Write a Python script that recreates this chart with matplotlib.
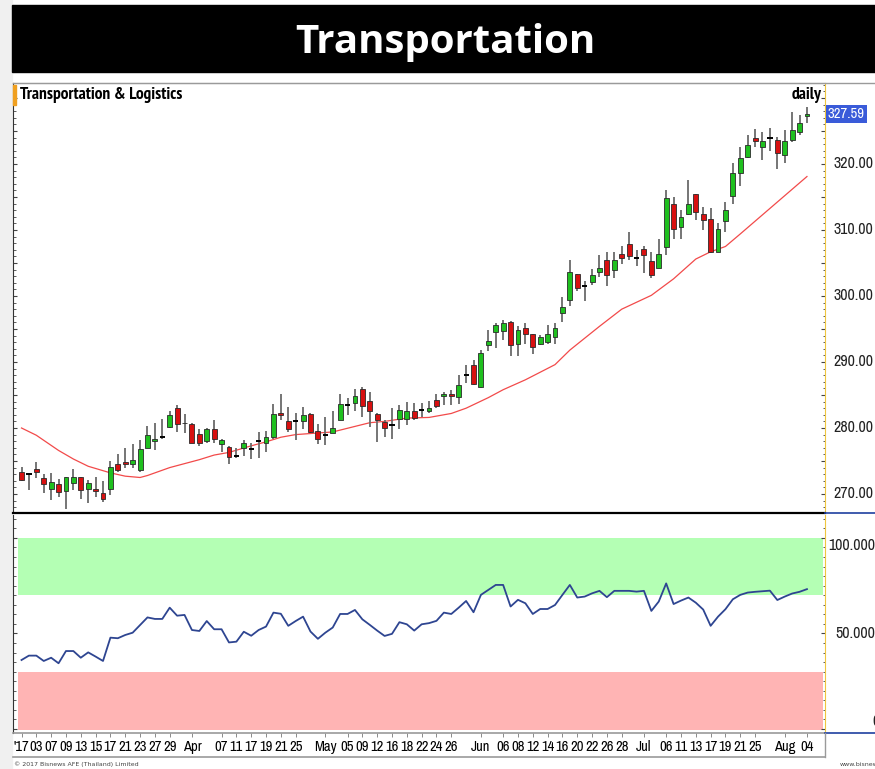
import matplotlib
matplotlib.use('Agg')
import matplotlib.pyplot as plt
from matplotlib.patches import Rectangle
from matplotlib.lines import Line2D
from matplotlib.ticker import MultipleLocator
from matplotlib.transforms import blended_transform_factory
import numpy as np

# ---- data (daily candles, Mar 1 -> Aug 4 2017) ----
OPEN = [273.4, 273.0, 273.8, 272.4, 270.7, 271.5, 270.4, 271.6, 272.5, 270.7,
        270.7, 270.2, 270.8, 274.6, 274.9, 274.6, 273.6, 277.0, 278.1, 278.6,
        280.1, 283.0, 280.8, 280.6, 279.1, 278.0, 279.8, 277.5, 277.1, 275.7,
        276.9, 276.8, 278.1, 277.8, 278.6, 282.3, 281.0, 281.1, 281.0, 282.1,
        279.6, 279.0, 279.3, 281.2, 283.5, 283.8, 285.9, 284.1, 282.1, 280.9,
        280.4, 281.3, 281.3, 282.5, 282.7, 282.5, 284.3, 284.9, 285.1, 284.7,
        288.0, 289.6, 286.2, 292.5, 294.6, 294.7, 296.0, 292.7, 295.2, 294.2,
        292.8, 293.1, 293.8, 297.4, 299.4, 303.4, 301.5, 302.1, 303.7, 305.4,
        304.0, 306.4, 307.9, 305.7, 307.1, 305.3, 304.3, 307.4, 314.0, 310.4,
        312.4, 315.4, 312.4, 311.6, 306.7, 311.3, 315.2, 318.7, 321.1, 324.0,
        322.5, 323.9, 323.7, 321.4, 323.7, 324.8, 327.2]
HIGH = [274.1, 273.1, 274.9, 273.1, 273.2, 272.3, 272.6, 273.8, 272.6, 272.1,
        272.5, 271.9, 275.0, 276.1, 276.9, 277.5, 278.2, 280.3, 280.7, 281.3,
        282.5, 283.5, 282.1, 280.8, 279.9, 280.0, 281.2, 278.4, 277.2, 276.9,
        278.2, 277.7, 279.4, 279.6, 283.6, 285.2, 283.2, 282.2, 283.2, 282.3,
        280.6, 281.7, 282.6, 285.1, 284.5, 285.9, 286.2, 285.5, 282.3, 281.2,
        283.1, 283.5, 284.0, 283.8, 283.8, 284.1, 285.1, 285.5, 285.8, 288.1,
        289.5, 290.3, 291.8, 294.8, 295.9, 296.4, 296.2, 295.4, 295.9, 294.3,
        294.1, 295.6, 295.9, 299.9, 305.4, 303.4, 302.2, 304.1, 306.2, 306.7,
        306.7, 307.6, 309.7, 307.0, 307.5, 306.6, 308.6, 316.1, 315.0, 313.1,
        317.6, 315.5, 313.5, 313.3, 311.1, 314.3, 320.1, 322.6, 324.4, 325.3,
        324.8, 325.4, 324.1, 325.2, 327.9, 327.4, 328.6]
LOW = [271.9, 270.6, 272.4, 270.1, 269.1, 269.6, 267.7, 270.6, 269.3, 268.7,
       269.6, 268.8, 269.8, 273.4, 273.9, 274.0, 273.4, 276.9, 276.7, 278.4,
       280.0, 279.4, 279.3, 277.7, 277.3, 277.7, 277.7, 276.4, 274.5, 275.4,
       275.8, 275.3, 275.4, 276.3, 278.4, 281.2, 279.4, 278.2, 279.9, 279.2,
       277.6, 277.4, 279.2, 281.2, 282.0, 282.6, 281.7, 280.2, 277.9, 278.7,
       278.3, 279.8, 280.4, 281.2, 281.6, 282.3, 283.0, 283.5, 283.5, 283.6,
       286.8, 286.5, 286.0, 291.6, 292.1, 293.3, 290.9, 290.9, 292.8, 291.2,
       292.6, 292.8, 292.8, 296.0, 298.5, 300.7, 299.2, 301.7, 302.9, 301.5,
       302.7, 304.8, 305.5, 304.6, 303.5, 302.7, 304.3, 306.2, 308.7, 308.7,
       312.3, 311.5, 310.0, 306.5, 306.7, 309.7, 314.0, 316.6, 320.9, 322.6,
       320.6, 321.9, 319.2, 320.1, 323.4, 324.4, 326.2]
CLOSE = [272.1, 273.0, 273.4, 271.5, 271.8, 270.3, 272.5, 272.5, 270.6, 271.7,
         270.4, 269.2, 274.1, 273.7, 274.6, 275.1, 276.8, 279.0, 278.4, 278.6,
         282.0, 280.6, 280.7, 277.8, 277.7, 279.8, 278.3, 278.2, 275.6, 275.7,
         277.8, 276.8, 278.1, 278.6, 282.1, 281.9, 279.8, 281.1, 282.0, 279.4,
         278.3, 279.0, 280.0, 283.7, 283.5, 284.9, 283.4, 282.5, 281.2, 280.0,
         280.4, 282.8, 282.6, 281.5, 282.7, 283.0, 283.3, 285.2, 284.9, 286.5,
         288.0, 286.6, 291.4, 293.2, 295.6, 295.9, 292.5, 294.8, 294.3, 292.3,
         293.8, 294.2, 295.1, 298.3, 303.7, 301.2, 301.5, 303.2, 304.2, 303.2,
         305.5, 305.7, 306.1, 305.7, 306.2, 303.2, 306.3, 314.8, 310.1, 311.9,
         313.9, 312.8, 311.5, 306.7, 310.1, 313.0, 318.6, 320.9, 322.9, 323.5,
         323.5, 323.9, 321.7, 323.5, 325.1, 326.2, 327.59]

# moving average (red line), sampled along the curve
MA_IDX = [0, 2, 5, 7, 9, 12, 14, 16, 17, 20, 22, 24, 26, 28, 31, 33, 35, 37,
          42, 47, 49, 52, 55, 58, 60, 63, 65, 68, 72, 74, 78, 81, 85, 88, 91,
          93, 95, 97, 100, 103, 106]
MA_VAL = [280.0, 278.9, 276.6, 275.3, 274.2, 273.2, 272.7, 272.5, 272.8, 274.0,
          274.6, 275.2, 275.9, 276.3, 277.3, 277.9, 278.6, 279.0, 279.4, 280.8,
          281.0, 281.5, 281.6, 282.2, 283.0, 284.6, 285.8, 287.3, 289.6, 291.8,
          295.4, 298.0, 300.1, 302.6, 305.6, 306.7, 307.5, 309.4, 312.3, 315.2,
          318.1]

RSI = [36.1, 38.4, 38.4, 35.6, 37.3, 34.4, 40.8, 40.8, 37.3, 40.1,
       37.9, 35.6, 47.8, 47.5, 49.2, 50.4, 54.4, 58.4, 57.6, 57.6,
       63.5, 59.3, 59.7, 51.8, 51.3, 56.5, 52.2, 52.2, 45.3, 45.7,
       50.9, 48.8, 51.8, 53.6, 60.9, 60.3, 54.0, 56.5, 58.8, 51.0,
       47.2, 50.4, 53.1, 60.2, 60.2, 62.3, 57.4, 54.5, 51.5, 48.7,
       49.8, 55.9, 54.8, 51.5, 54.8, 55.4, 56.6, 60.9, 60.2, 63.5,
       67.0, 61.1, 70.2, 72.8, 75.4, 75.4, 64.1, 67.6, 65.8, 60.2,
       62.8, 62.8, 64.9, 70.2, 75.4, 68.8, 69.3, 71.0, 72.3, 69.0,
       72.3, 72.3, 72.3, 71.9, 72.3, 61.8, 66.7, 76.2, 65.4, 67.2,
       68.8, 66.1, 62.5, 54.0, 58.8, 62.7, 67.9, 70.2, 71.4, 71.8,
       72.1, 72.4, 67.5, 69.3, 70.9, 71.8, 73.2]

TICK_IDX = [0, 2, 4, 6, 8, 10, 12, 14, 16, 18, 20, 23, 27, 29, 31, 33, 35, 37,
            41, 44, 46, 48, 50, 52, 54, 56, 58, 62, 65, 67, 69, 71, 73, 75, 77,
            79, 81, 84, 87, 89, 91, 93, 95, 97, 99, 103, 106]
TICK_LABELS = ["'17", '03', '07', '09', '13', '15', '17', '21', '23', '27', '29',
               'Apr', '07', '11', '17', '19', '21', '25',
               'May', '05', '09', '12', '16', '18', '22', '24', '26',
               'Jun', '06', '08', '12', '14', '16', '20', '22', '26', '28',
               'Jul', '06', '11', '13', '17', '19', '21', '25', 'Aug', '04']

PRICE_TICKS = [270, 280, 290, 300, 310, 320]

# narrow faces first, plain Liberation Sans if they are missing
NARROW = ['Archivo Narrow', 'PT Sans Narrow', 'Liberation Sans']
NARROW_BOLD = ['PT Sans Narrow', 'Pragati Narrow', 'Liberation Sans']

W, H = 875, 769
fig = plt.figure(figsize=(W / 100, H / 100), dpi=100)
fig.patch.set_facecolor('white')


def fx(px):
    return px / W


def fy(py):
    return 1 - py / H


# page furniture
fig.add_artist(Rectangle((0, 0), fx(12), 1, transform=fig.transFigure,
                         color='#f0f0f0', zorder=0))
fig.add_artist(Rectangle((fx(12), fy(72)), 1 - fx(12), fy(5) - fy(72),
                         transform=fig.transFigure, color='black', zorder=0))
fig.text(fx(445), fy(43), 'Transportation', color='white', fontsize=29,
         fontweight='bold', family='Open Sans', ha='center', va='center')

ax = fig.add_axes([fx(13), fy(513), fx(825) - fx(13), fy(83) - fy(513)])
axo = fig.add_axes([fx(13), fy(733), fx(825) - fx(13), fy(515) - fy(733)])

X0, STEP = 21.5, 7.41
xlim = ((13 - X0) / STEP, (825 - X0) / STEP)

# ---- candles ----
o = np.array(OPEN)
h = np.array(HIGH)
l = np.array(LOW)
c = np.array(CLOSE)
idx = np.arange(len(c))
up = c > o + 0.05
dn = c < o - 0.05
flat = ~(up | dn)

ax.vlines(idx, l, h, color='#6a6a6a', lw=1.3, zorder=2)
ax.bar(idx[up], (c - o)[up], bottom=o[up], width=0.66, color='#1fc01f',
       edgecolor='#2a2a2a', linewidth=0.6, zorder=3)
ax.bar(idx[dn], (o - c)[dn], bottom=c[dn], width=0.66, color='#d81010',
       edgecolor='#2a2a2a', linewidth=0.6, zorder=3)
ax.hlines(c[flat], idx[flat] - 0.35, idx[flat] + 0.35, color='black', lw=1.4, zorder=3)

ax.plot(MA_IDX, MA_VAL, color='#f24a4a', lw=0.9, zorder=1)

ax.set_xlim(*xlim)
ax.set_ylim(267.12, 332.27)
ax.set_xticks([])
ax.yaxis.set_major_locator(MultipleLocator(5))
ax.yaxis.set_minor_locator(MultipleLocator(1))
ax.tick_params(axis='y', which='both', left=True, right=True, labelleft=False,
               labelright=False, direction='in', color='#444444')
ax.tick_params(axis='y', which='major', length=3, width=0.8)
ax.tick_params(axis='y', which='minor', length=1.8, width=0.6)
ax.spines['top'].set_color('#9a9a9a')
ax.spines['left'].set_color('#333333')
ax.spines['right'].set_color('#eec640')
ax.spines['bottom'].set_color('black')
ax.spines['bottom'].set_linewidth(1.6)

tr = blended_transform_factory(fig.transFigure, ax.transData)
for v in PRICE_TICKS:
    ax.text(fx(833), v, f'{v:.2f}', transform=tr, ha='left', va='center',
            fontsize=11.5, family=NARROW, color='#222222', clip_on=False)
ax.text(fx(828), CLOSE[-1], f'{CLOSE[-1]:.2f}', transform=tr, ha='left',
        va='center', fontsize=10.5, family=NARROW, color='white', clip_on=False,
        bbox=dict(boxstyle='square,pad=0.15', fc='#3a5bd9', ec='none'))

ax.text(fx(20), fy(95), 'Transportation & Logistics', transform=fig.transFigure,
        fontsize=12.5, fontweight='bold', family=NARROW_BOLD, ha='left', va='center')
ax.text(fx(822), fy(95), 'daily', transform=fig.transFigure,
        fontsize=12.5, fontweight='bold', family=NARROW_BOLD, ha='right', va='center')
fig.add_artist(Rectangle((fx(13), fy(105)), fx(3), fy(85) - fy(105),
                         transform=fig.transFigure, color='#f0a020', zorder=5))

# ---- oscillator panel ----
axo.axhspan(70, 100, xmin=0.006, xmax=0.9975, color='#b4ffb4', lw=0, zorder=0)
axo.axhspan(-0.5, 30, xmin=0.006, xmax=0.9975, color='#ffb4b4', lw=0, zorder=0)
axo.plot(idx, RSI, color='#2e4591', lw=1.3, zorder=2)
axo.set_xlim(*xlim)
axo.set_ylim(-2.1, 112)
axo.set_yticks([0, 50, 100])
axo.yaxis.set_minor_locator(MultipleLocator(5))
axo.tick_params(axis='y', which='both', left=True, right=True, labelleft=False,
                labelright=False, direction='in', color='#444444')
axo.tick_params(axis='y', which='major', length=3, width=0.8)
axo.tick_params(axis='y', which='minor', length=1.8, width=0.6)
axo.spines['top'].set_visible(False)
axo.spines['left'].set_color('#333333')
axo.spines['right'].set_color('#eec640')
axo.spines['bottom'].set_color('#9a9a9a')
axo.spines['bottom'].set_linewidth(1.2)

tro = blended_transform_factory(fig.transFigure, axo.transData)
axo.text(fx(883), 100, '100.0000', transform=tro, ha='right', va='top',
         fontsize=11.5, family=NARROW, color='#222222', clip_on=False)
axo.text(fx(883), 50, '50.0000', transform=tro, ha='right', va='center',
         fontsize=11.5, family=NARROW, color='#222222', clip_on=False)
axo.text(fx(880), 0, '0', transform=tro, ha='right', va='bottom',
         fontsize=11.5, family=NARROW, color='#222222', clip_on=False)

axo.set_xticks(TICK_IDX)
axo.set_xticklabels(TICK_LABELS, fontsize=10.5, family=NARROW)
axo.tick_params(axis='x', length=3, width=0.6, color='#777777', pad=2)

# separators on the right and under the dates
for yy in (513, 733):
    fig.add_artist(Line2D([fx(825), 1], [fy(yy), fy(yy)], color='#1f3f9f', lw=1.2))
fig.add_artist(Line2D([fx(13), fx(825)], [fy(757), fy(757)], color='#9a9a9a', lw=1.2))
fig.add_artist(Line2D([fx(825), fx(825)], [fy(733), fy(757)], color='#9a9a9a', lw=1.0))
fig.add_artist(Line2D([fx(13), 1], [fy(83), fy(83)], color='#9a9a9a', lw=1.0))

fig.text(fx(14), fy(764), '\u00a9 2017 Bisnews AFE (Thailand) Limited', fontsize=4.5,
         color='#444444', ha='left', va='center')
fig.text(fx(840), fy(764), 'www.bisnews.com', fontsize=4.5, color='#444444',
         ha='left', va='center')

fig.savefig('out.png', dpi=100)
